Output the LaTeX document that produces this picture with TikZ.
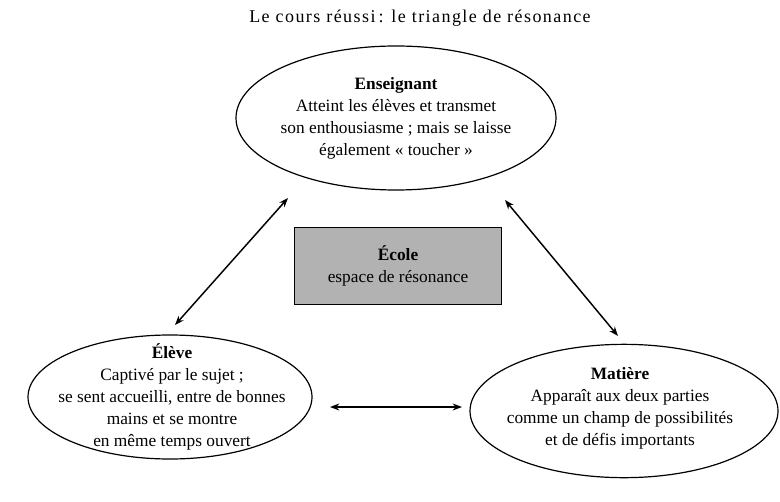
\documentclass[tikz,border=0pt]{standalone}
\usepackage{fontspec}
\setmainfont{Liberation Serif}
\usetikzlibrary{shapes.geometric,arrows.meta}
\begin{document}
\begin{tikzpicture}[x=0.75pt,y=-0.75pt,
  txt/.style={align=center,font=\fontsize{13}{16.5}\selectfont},
  ell/.style={draw,line width=0.9pt,ellipse,inner sep=0pt},
  arr/.style={{Stealth[length=7pt]}-{Stealth[length=7pt]},line width=1.1pt}]
\useasboundingbox (0,0) rectangle (780,502);
\node[font=\fontsize{13.5}{16}\selectfont\addfontfeatures{LetterSpace=8}] (title) at (420,18) {Le cours réussi\,: le triangle de résonance};
\node[ell,minimum width=240pt,minimum height=108pt] (ens) at (396,118) {};
\node[txt] (enst) at (396,118) {\textbf{Enseignant}\\Atteint les élèves et transmet\\son enthousiasme ; mais se laisse\\également « toucher »};
\node[ell,minimum width=213pt,minimum height=93pt] (ele) at (170,397) {};
\node[txt] (elet) at (172,397) {\textbf{Élève}\\Captivé par le sujet ;\\se sent accueilli, entre de bonnes\\mains et se montre\\en même temps ouvert};
\node[ell,minimum width=231pt,minimum height=100pt] (mat) at (624,411) {};
\node[txt] (matt) at (620,408) {\textbf{Matière}\\Apparaît aux deux parties\\comme un champ de possibilités\\et de défis importants};
\node[draw,line width=0.9pt,fill=black!30,minimum width=155pt,minimum height=58pt,txt] (eco) at (398,266) {\textbf{École}\\espace de résonance};
\coordinate (a1) at (288,198); \coordinate (a2) at (175,325);
\coordinate (b1) at (505,200); \coordinate (b2) at (618,336);
\coordinate (c1) at (330,407); \coordinate (c2) at (462,407);
\draw[arr] (a1) -- (a2);
\draw[arr] (b1) -- (b2);
\draw[arr] (c1) -- (c2);
\end{tikzpicture}
\end{document}
